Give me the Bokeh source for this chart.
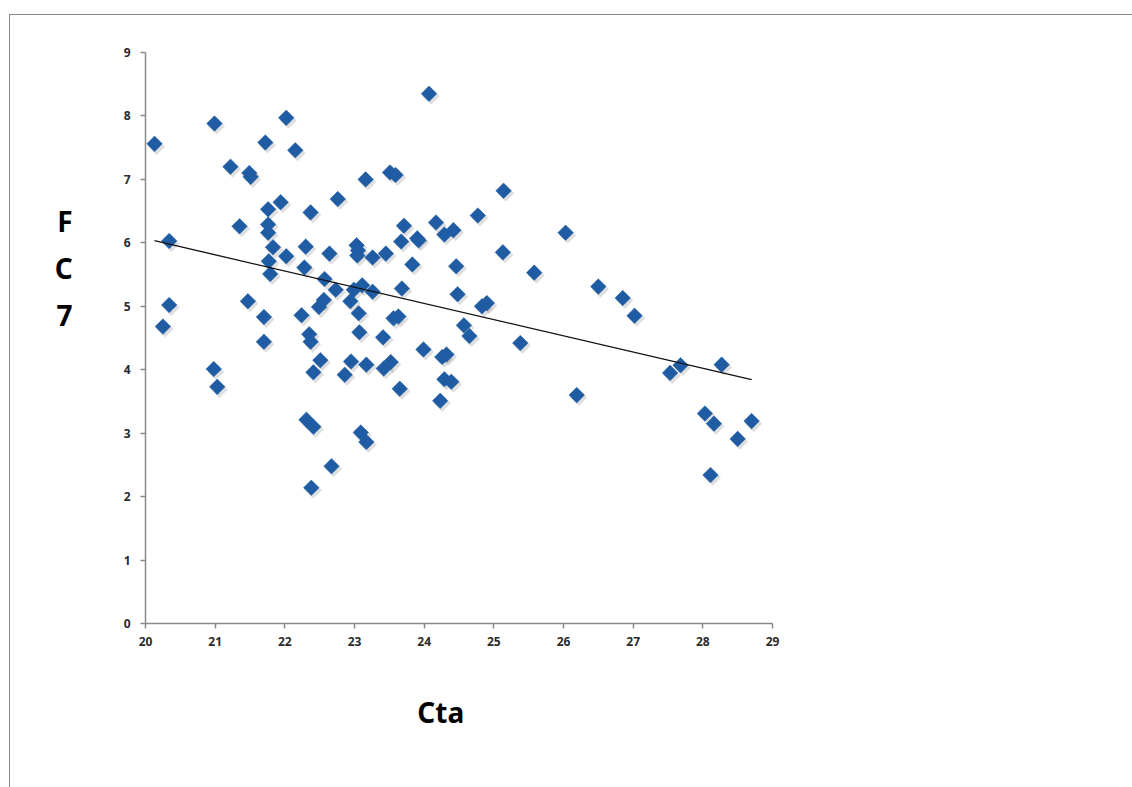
import numpy as np
from bokeh.plotting import figure
from bokeh.models import FixedTicker
from bokeh.embed import file_html
from bokeh.resources import INLINE

# Cta values (x) and FC7 values (y)
cta = [20.13, 20.34, 20.34, 20.25, 20.99, 21.22, 21.49, 21.51, 21.35, 21.47,
       20.98, 21.03, 21.72, 22.02, 22.15, 21.94, 22.76, 21.76, 22.37, 21.76,
       21.76, 21.83, 22.02, 22.30, 22.64, 23.03, 23.05, 23.04, 21.77, 21.79,
       22.28, 22.57, 22.73, 22.94, 23.06, 21.70, 22.24, 22.35, 22.37, 21.70,
       22.49, 22.56, 23.07, 22.51, 22.41, 22.95, 22.86, 22.31, 22.41, 22.67,
       22.38, 23.09, 23.17, 24.07, 23.51, 23.59, 23.16, 25.14, 24.77, 23.71,
       24.17, 24.29, 24.42, 23.67, 23.90, 23.92, 26.03, 23.26, 23.45, 25.13,
       23.83, 24.46, 25.58, 23.11, 22.99, 23.26, 23.68, 24.48, 23.56, 23.63,
       24.83, 24.90, 24.57, 23.41, 24.65, 25.38, 23.99, 24.26, 24.32, 23.17,
       23.42, 23.52, 23.65, 24.29, 24.39, 24.23, 26.50, 26.85, 27.02, 26.19,
       27.53, 27.68, 28.27, 28.03, 28.16, 28.70, 28.50, 28.11]
fc7 = [7.56, 6.03, 5.02, 4.68, 7.88, 7.20, 7.10, 7.04, 6.26, 5.08,
       4.01, 3.73, 7.58, 7.97, 7.46, 6.64, 6.69, 6.53, 6.48, 6.29,
       6.16, 5.93, 5.79, 5.94, 5.83, 5.96, 5.88, 5.80, 5.71, 5.51,
       5.61, 5.43, 5.26, 5.08, 4.89, 4.83, 4.86, 4.56, 4.44, 4.44,
       4.99, 5.10, 4.59, 4.15, 3.96, 4.13, 3.92, 3.21, 3.10, 2.48,
       2.14, 3.01, 2.86, 8.35, 7.11, 7.07, 7.00, 6.82, 6.43, 6.27,
       6.32, 6.13, 6.20, 6.02, 6.07, 6.04, 6.16, 5.77, 5.83, 5.85,
       5.66, 5.63, 5.53, 5.33, 5.26, 5.23, 5.28, 5.19, 4.81, 4.84,
       5.00, 5.05, 4.70, 4.51, 4.53, 4.42, 4.32, 4.20, 4.24, 4.08,
       4.02, 4.12, 3.70, 3.85, 3.81, 3.51, 5.31, 5.13, 4.85, 3.60,
       3.95, 4.07, 4.08, 3.31, 3.15, 3.19, 2.91, 2.34]

x_ticks = [20, 21, 22, 23, 24, 25, 26, 27, 28, 29]
y_ticks = [0, 1, 2, 3, 4, 5, 6, 7, 8, 9]
x_title = "Cta"
y_title = "F\nC\n7"

W, H = 1132, 787
p = figure(width=W, height=H, output_backend="svg", toolbar_location=None,
           x_range=(20, 29), y_range=(0, 9),
           min_border_left=145, min_border_right=W - 772,
           min_border_top=52, min_border_bottom=H - 623)
p.outline_line_color = None
p.xgrid.visible = False
p.ygrid.visible = False
p.background_fill_color = "white"
p.border_fill_alpha = 0
p.styles = {
    "background": ("linear-gradient(#8a8a8a,#8a8a8a) 9px 14px / 1px 773px no-repeat, "
                   "linear-gradient(#8a8a8a,#8a8a8a) 9px 14px / 1130px 1px no-repeat, white"),
}

for ax, ticks in ((p.xaxis, x_ticks), (p.yaxis, y_ticks)):
    ax.ticker = FixedTicker(ticks=ticks)
    ax.axis_line_color = "#8a8a8a"
    ax.axis_line_width = 1.5
    ax.major_tick_line_color = "#8a8a8a"
    ax.major_tick_line_width = 1.5
    ax.major_tick_out = 5
    ax.major_tick_in = 0
    ax.minor_tick_line_color = None
    ax.major_label_text_font = "Noto Sans"
    ax.major_label_text_font_style = "bold"
    ax.major_label_text_font_size = "12px"
    ax.major_label_text_color = "#2b2b2b"
    ax.axis_label_text_font = "Noto Sans"
    ax.axis_label_text_font_style = "bold"
    ax.axis_label_text_font_size = "28px"
    ax.axis_label_text_color = "black"
p.xaxis.major_label_standoff = 8
p.yaxis.major_label_standoff = 10

p.xaxis.axis_label = x_title + "\u00a0" * 5
p.xaxis.axis_label_standoff = 44
p.yaxis.axis_label = y_title + "\n\n\n"
p.yaxis.axis_label_orientation = "horizontal"
p.yaxis.axis_label_text_line_height = 1.23
p.yaxis.axis_label_standoff = 48

# shadow + diamonds
p.scatter(np.array(cta) + 0.03, np.array(fc7) - 0.04, marker="square", size=12,
          angle=np.pi / 4, fill_color="#7f7f7f", fill_alpha=0.25, line_color=None)
p.scatter(cta, fc7, marker="square", size=11, angle=np.pi / 4,
          fill_color="#1F5CA3", line_color="#1F5CA3", line_width=0.5)

# linear trend line
k, b = np.polyfit(cta, fc7, 1)
xs = np.array([min(cta), max(cta)])
p.line(xs, k * xs + b, line_color="#111111", line_width=1.3)

open("out.html", "w").write(file_html(p, INLINE))
